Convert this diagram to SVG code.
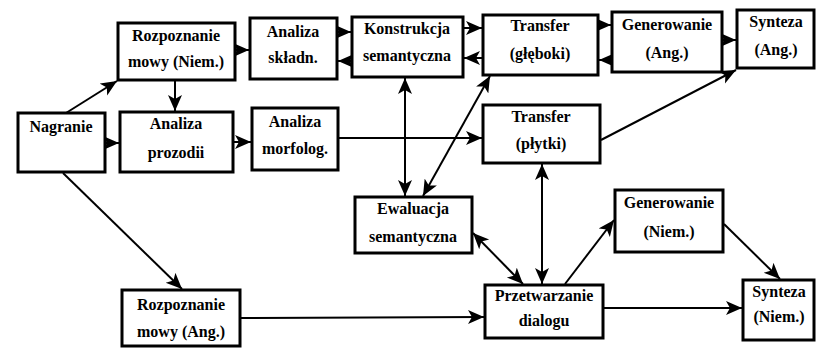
<svg xmlns="http://www.w3.org/2000/svg" width="816" height="348" viewBox="0 0 816 348">
<defs>
<style>
.box{fill:#fff;stroke:#000;stroke-width:3}
.t{font-family:"Liberation Serif","Times New Roman","DejaVu Serif",serif;font-weight:bold;font-size:16px;fill:#000;text-anchor:middle}
.c{stroke:#000;stroke-width:2;fill:none;marker-end:url(#ah)}
.d{marker-start:url(#ah)}
</style>
<marker id="ah" markerUnits="userSpaceOnUse" markerWidth="17" markerHeight="15" refX="16" refY="7" orient="auto-start-reverse" viewBox="0 0 17 15">
<path d="M0,0 L16,7 L0,14 L4,7 z" fill="#000"/>
</marker>
</defs>
<rect width="816" height="348" fill="#fff"/>
<g id="connectors">
<line class="c" x1="236" y1="50" x2="249" y2="50"/>
<line class="c" x1="338" y1="32" x2="351" y2="32"/>
<line class="c" x1="351" y1="61" x2="338" y2="61"/>
<line class="c" x1="464" y1="28" x2="482" y2="28"/>
<line class="c" x1="482" y1="58" x2="464" y2="58"/>
<line class="c" x1="599" y1="25" x2="611" y2="25"/>
<line class="c" x1="611" y1="60" x2="599" y2="60"/>
<line class="c" x1="723" y1="40" x2="736" y2="40"/>
<line class="c" x1="106" y1="143" x2="119" y2="143"/>
<line class="c" x1="234" y1="142" x2="251" y2="142"/>
<line class="c" x1="175" y1="81" x2="175" y2="111"/>
<line class="c" x1="66" y1="113" x2="117" y2="81"/>
<line class="c" x1="63" y1="173" x2="182" y2="289"/>
<line class="c" x1="339" y1="138" x2="482" y2="138"/>
<line class="c d" x1="405" y1="78" x2="405" y2="196"/>
<line class="c d" x1="490" y1="76" x2="423" y2="196"/>
<line class="c" x1="601" y1="140" x2="736" y2="70"/>
<line class="c d" x1="542" y1="164" x2="542" y2="284"/>
<line class="c d" x1="473" y1="233" x2="523" y2="284"/>
<line class="c" x1="565" y1="284" x2="614" y2="220"/>
<line class="c" x1="724" y1="224" x2="780" y2="279"/>
<line class="c" x1="604" y1="308" x2="742" y2="308"/>
<line class="c" x1="241" y1="318" x2="484" y2="317"/>
</g>
<g id="rozp_niem"><rect class="box" x="118" y="23" width="117" height="57"/><text class="t" x="176" y="41" font-family="Liberation Serif, serif">Rozpoznanie</text><text class="t" x="176" y="67">mowy (Niem.)</text></g>
<g id="analiza_skl"><rect class="box" x="250" y="18" width="87" height="61"/><text class="t" x="293" y="37">Analiza</text><text class="t" x="293" y="63">składn.</text></g>
<g id="konstrukcja"><rect class="box" x="352" y="17" width="111" height="60"/><text class="t" x="407" y="34">Konstrukcja</text><text class="t" x="407" y="61">semantyczna</text></g>
<g id="transfer_gl"><rect class="box" x="483" y="15" width="115" height="60"/><text class="t" x="540" y="31">Transfer</text><text class="t" x="540" y="59">(głęboki)</text></g>
<g id="gen_ang"><rect class="box" x="612" y="12" width="110" height="60"/><text class="t" x="667" y="30">Generowanie</text><text class="t" x="667" y="58">(Ang.)</text></g>
<g id="synt_ang"><rect class="box" x="737" y="10" width="77" height="58"/><text class="t" x="776" y="27">Synteza</text><text class="t" x="776" y="55">(Ang.)</text></g>
<g id="nagranie"><rect class="box" x="18" y="113" width="87" height="59"/><text class="t" x="61" y="132">Nagranie</text></g>
<g id="prozodia"><rect class="box" x="120" y="112" width="113" height="60"/><text class="t" x="176" y="129">Analiza</text><text class="t" x="176" y="158">prozodii</text></g>
<g id="morfolog"><rect class="box" x="252" y="108" width="86" height="62"/><text class="t" x="295" y="127">Analiza</text><text class="t" x="295" y="154">morfolog.</text></g>
<g id="transfer_pl"><rect class="box" x="483" y="105" width="117" height="58"/><text class="t" x="541" y="122">Transfer</text><text class="t" x="541" y="149">(płytki)</text></g>
<g id="ewaluacja"><rect class="box" x="355" y="197" width="117" height="56"/><text class="t" x="413" y="214">Ewaluacja</text><text class="t" x="413" y="242">semantyczna</text></g>
<g id="gen_niem"><rect class="box" x="615" y="190" width="108" height="62"/><text class="t" x="669" y="208">Generowanie</text><text class="t" x="669" y="237">(Niem.)</text></g>
<g id="przetwarzanie"><rect class="box" x="485" y="285" width="118" height="53"/><text class="t" x="544" y="301">Przetwarzanie</text><text class="t" x="544" y="326">dialogu</text></g>
<g id="synt_niem"><rect class="box" x="743" y="280" width="71" height="60"/><text class="t" x="779" y="297">Synteza</text><text class="t" x="779" y="322">(Niem.)</text></g>
<g id="rozp_ang"><rect class="box" x="122" y="290" width="118" height="56"/><text class="t" x="181" y="310">Rozpoznanie</text><text class="t" x="181" y="337">mowy (Ang.)</text></g>
</svg>
